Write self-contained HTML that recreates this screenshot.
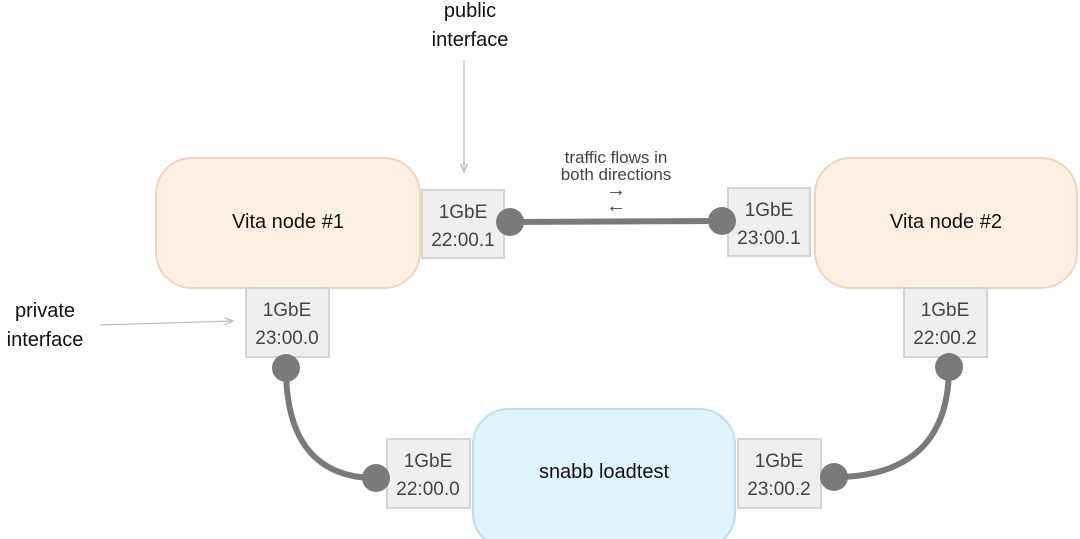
<!DOCTYPE html>
<html><head><style>
body{margin:0;background:#fff;}
svg{display:block;font-family:"Liberation Sans",sans-serif;}
</style></head><body>
<svg width="1080" height="539" viewBox="0 0 1080 539">
<defs><marker id="a" markerWidth="8" markerHeight="8" refX="7" refY="4" orient="auto"><path d="M0,1 L7,4 L0,7" fill="none" stroke="#bbb" stroke-width="1"/></marker></defs>
<rect x="156" y="158" width="264" height="130" rx="36" fill="#fdf0e2" stroke="#f4d2c2" stroke-width="2"/>
<rect x="815" y="158" width="262" height="130" rx="36" fill="#fdf0e2" stroke="#f4d2c2" stroke-width="2"/>
<rect x="473" y="409" width="262" height="140" rx="36" fill="#dff3fb" stroke="#bcdcef" stroke-width="2"/>
<text x="288" y="228" font-size="20" text-anchor="middle" fill="#111">Vita node #1</text>
<text x="946" y="228" font-size="20" text-anchor="middle" fill="#111">Vita node #2</text>
<text x="604" y="478" font-size="20" text-anchor="middle" fill="#111">snabb loadtest</text>
<g fill="#efefef" stroke="#d4d4d4" stroke-width="2">
<rect x="422" y="190" width="82" height="68"/>
<rect x="728" y="188" width="82" height="68"/>
<rect x="246" y="288" width="83" height="69"/>
<rect x="904" y="288" width="83" height="69"/>
<rect x="387" y="439" width="83" height="69"/>
<rect x="738" y="439" width="83" height="69"/>
</g>
<g font-size="19" fill="#444" text-anchor="middle">
<text x="463" y="218">1GbE</text><text x="463" y="246">22:00.1</text>
<text x="769" y="216">1GbE</text><text x="769" y="244">23:00.1</text>
<text x="287" y="316">1GbE</text><text x="287" y="344">23:00.0</text>
<text x="945" y="316">1GbE</text><text x="945" y="344">22:00.2</text>
<text x="428" y="467">1GbE</text><text x="428" y="495">22:00.0</text>
<text x="779" y="467">1GbE</text><text x="779" y="495">23:00.2</text>
</g>
<g stroke="#7a7a7a" stroke-width="6" fill="none">
<line x1="510" y1="222" x2="722" y2="221"/>
<path d="M286 368 C286 445 320 478 376 478"/>
<path d="M834 477 C910 477 949 440 949 367"/>
</g>
<g fill="#7a7a7a">
<circle cx="510" cy="222" r="14"/><circle cx="722" cy="221" r="14"/>
<circle cx="286" cy="368" r="14"/><circle cx="376" cy="478" r="14"/>
<circle cx="834" cy="477" r="14"/><circle cx="949" cy="367" r="14"/>
</g>
<g font-size="17" fill="#444" text-anchor="middle">
<text x="616" y="163">traffic flows in</text>
<text x="616" y="180">both directions</text>
<text x="616" y="196" font-size="20">→</text>
<text x="616" y="212" font-size="20">←</text>
</g>
<g font-size="20" fill="#111" text-anchor="middle">
<text x="470" y="17">public</text><text x="470" y="46">interface</text>
<text x="45" y="317">private</text><text x="45" y="346">interface</text>
</g>
<line x1="464" y1="60" x2="464" y2="172" stroke="#bbb" stroke-width="1.2" marker-end="url(#a)"/>
<line x1="100" y1="325" x2="233" y2="321" stroke="#bbb" stroke-width="1.2" marker-end="url(#a)"/>
</svg>
</body></html>
